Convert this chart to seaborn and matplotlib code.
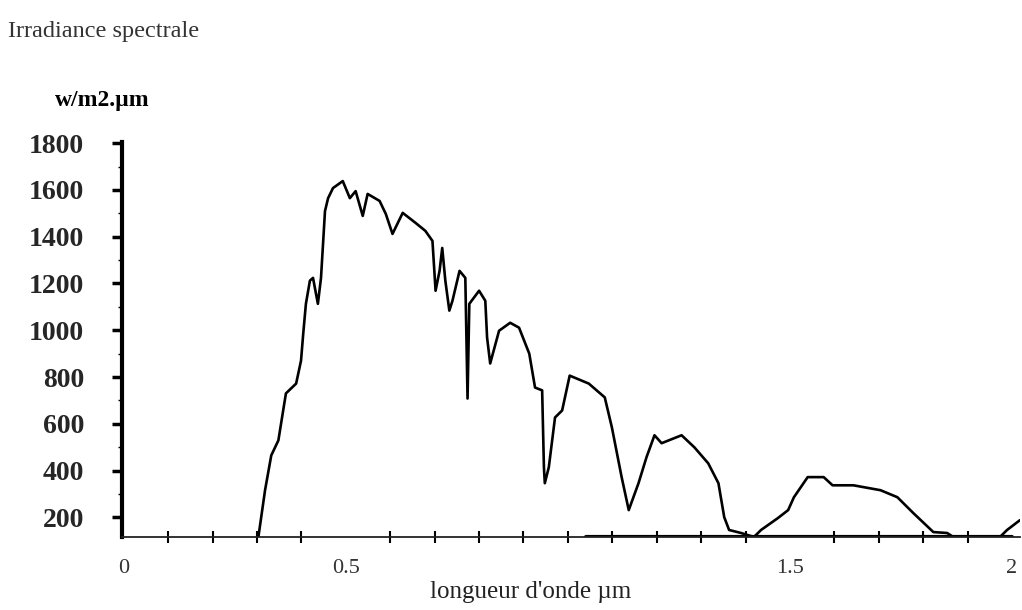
import numpy as np
import pandas as pd
import matplotlib
matplotlib.use("Agg")
import matplotlib.pyplot as plt
import seaborn as sns

# wavelength (µm) and spectral irradiance (W/m2.µm)
wavelength = [0.303, 0.318, 0.332, 0.348, 0.365, 0.388, 0.399, 0.404, 0.410, 0.419,
              0.426, 0.437, 0.444, 0.453, 0.460, 0.471, 0.493, 0.509, 0.522, 0.538,
              0.549, 0.576, 0.590, 0.605, 0.628, 0.657, 0.679, 0.695, 0.702, 0.711,
              0.717, 0.724, 0.733, 0.740, 0.756, 0.769, 0.774, 0.778, 0.800, 0.814,
              0.818, 0.825, 0.845, 0.870, 0.890, 0.913, 0.926, 0.942, 0.946, 0.948,
              0.957, 0.971, 0.987, 1.004, 1.047, 1.083, 1.099, 1.121, 1.137, 1.159,
              1.177, 1.195, 1.211, 1.256, 1.285, 1.316, 1.339, 1.352, 1.363, 1.390,
              1.419, 1.435, 1.473, 1.496, 1.509, 1.540, 1.576, 1.596, 1.643, 1.704,
              1.742, 1.778, 1.823, 1.854, 1.868, 1.973, 1.989, 2.018]
irradiance = [116, 316, 465, 529, 730, 772, 870, 986, 1113, 1212,
              1224, 1113, 1224, 1510, 1565, 1608, 1638, 1565, 1595, 1489,
              1583, 1553, 1497, 1412, 1502, 1459, 1425, 1382, 1169, 1254,
              1352, 1212, 1084, 1126, 1254, 1224, 708, 1113, 1169, 1126,
              969, 858, 998, 1032, 1011, 900, 755, 743, 414, 346,
              414, 627, 657, 806, 772, 713, 585, 372, 231, 346,
              457, 551, 517, 551, 499, 431, 346, 201, 146, 133,
              116, 146, 197, 231, 286, 372, 372, 337, 337, 316,
              286, 218, 137, 133, 116, 116, 146, 188]

# thick baseline segment on the right part of the axis
base_wavelength = [1.04, 2.0]
base_value = [116, 116]

y_ticks = [200, 400, 600, 800, 1000, 1200, 1400, 1600, 1800]
x_ticks = [0, 0.5, 1.5, 2]
x_tick_labels = ["0", "0.5", "1.5", "2"]

df = pd.DataFrame({"wavelength": wavelength, "irradiance": irradiance})
base = pd.DataFrame({"wavelength": base_wavelength, "irradiance": base_value})

sns.set_theme(style="white")
plt.rcParams["font.family"] = ["Liberation Serif", "DejaVu Serif"]

fig = plt.figure(figsize=(10.22, 6.10), dpi=100)
ax = fig.add_axes([0.119, 0.1197, 0.879, 0.6475])

sns.lineplot(data=df, x="wavelength", y="irradiance", sort=False, estimator=None,
             color="black", linewidth=1.9, ax=ax)
sns.lineplot(data=base, x="wavelength", y="irradiance", sort=False, estimator=None,
             color="black", linewidth=3.0, ax=ax)

ax.set_xlim(-0.005, 2.018)
ax.set_ylim(116, 1805)

for s in ["top", "right"]:
    ax.spines[s].set_visible(False)
ax.spines["left"].set_linewidth(3.0)
ax.spines["left"].set_color("black")
ax.spines["bottom"].set_linewidth(1.3)
ax.spines["bottom"].set_color("#222222")

ax.set_yticks(y_ticks)
ax.set_yticklabels([str(v) for v in y_ticks], fontweight="bold", fontsize=20)
ax.set_yticks(np.arange(300, 1800, 200), minor=True)
ax.tick_params(axis="y", which="major", direction="out", length=7, width=2.5,
               pad=20, color="black", left=True)
ax.tick_params(axis="y", which="minor", direction="out", length=3, width=1,
               color="black", left=True)

ax.set_xticks(x_ticks)
ax.set_xticklabels(x_tick_labels, fontsize=16, color="#333333")
ax.set_xticks(np.arange(0.1, 2.0, 0.1), minor=True)
ax.tick_params(axis="x", which="major", direction="inout", length=0, pad=16, bottom=True)
ax.tick_params(axis="x", which="minor", direction="inout", length=8, width=1.5,
               color="black", bottom=True)

ax.set_xlabel("longueur d'onde µm", fontsize=18, color="#222222")
ax.xaxis.set_label_coords(0.455, -0.112)
ax.set_ylabel("")

fig.text(0.008, 0.948, "Irradiance spectrale", fontsize=17.5, color="#333333",
         ha="left", va="center")
fig.text(0.1, 0.835, "w/m2.µm", fontsize=17, fontweight="bold", color="black",
         ha="center", va="center")

fig.savefig("out.png", dpi=100, facecolor="white")
